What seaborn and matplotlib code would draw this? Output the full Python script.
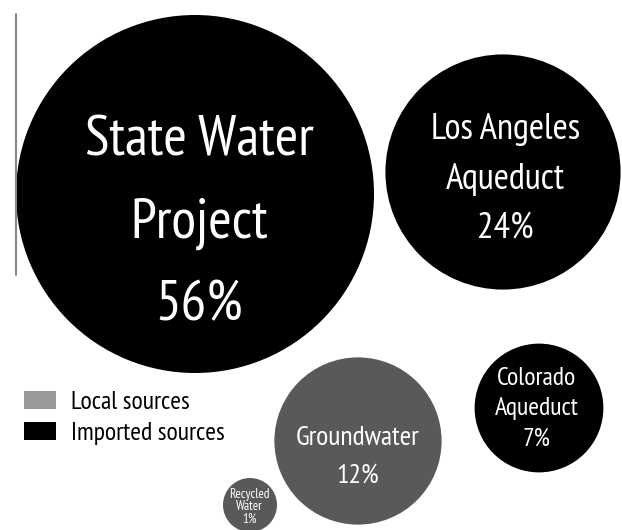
import matplotlib
matplotlib.use("Agg")
import matplotlib.pyplot as plt
from matplotlib.patches import Patch
import seaborn as sns
import pandas as pd

# Data
sources = ["State Water Project", "Los Angeles Aqueduct", "Colorado Aqueduct", "Groundwater", "Recycled Water"]
labels = ["State Water\nProject\n56%", "Los Angeles\nAqueduct\n24%", "Colorado\nAqueduct\n7%",
          "Groundwater\n12%", "Recycled\nWater\n1%"]
percent = [56, 24, 7, 12, 1]
kind = ["Imported sources", "Imported sources", "Imported sources", "Local sources", "Local sources"]
legend_labels = ["Local sources", "Imported sources"]
# bubble layout positions (layout coordinates, y downward)
pos_x = [195, 503, 539, 358, 250]
pos_y = [194, 172, 408, 441, 505]

sns.set_theme(style="white")
FONT = ['PT Sans Narrow', 'DejaVu Sans']
plt.rcParams['font.family'] = FONT

df = pd.DataFrame({"source": sources, "label": labels, "pct": percent, "kind": kind,
                   "x": pos_x, "y": pos_y})

W, H, DPI = 622, 530, 100
fig = plt.figure(figsize=(W / DPI, H / DPI), dpi=DPI)
ax = fig.add_axes([0, 0, 1, 1])

def area_pt2(r_px):
    return (2 * r_px * 72 / DPI) ** 2

palette = {"Imported sources": "#000000", "Local sources": "#595959"}
sns.scatterplot(data=df, x="x", y="y", size="pct", sizes=(area_pt2(27), area_pt2(179)),
                size_norm=(min(percent), max(percent)),
                hue="kind", palette=palette, linewidth=0, legend=False, ax=ax)

ax.set_xlim(0, W)
ax.set_ylim(H, 0)
ax.axis("off")

# text style per bubble: font size (pt), x offset, first-baseline offset, line spacing (px)
styles = {
    "State Water Project": (41, 4, -39, 82.5),
    "Los Angeles Aqueduct": (26.5, 2.5, -33, 49.5),
    "Colorado Aqueduct": (18.5, -2, -23, 30.5),
    "Groundwater": (20, 0, 4, 38),
    "Recycled Water": (9.5, -1, -7, 12.5),
}
for _, row in df.iterrows():
    fs, dx, dy0, sp = styles[row["source"]]
    for i, line in enumerate(row["label"].split("\n")):
        ax.text(row["x"] + dx, row["y"] + dy0 + i * sp, line, ha="center", va="baseline",
                color="white", fontsize=fs)

# thin vertical rule at left
ax.plot([16, 16], [14, 275], color="#888888", lw=1.5)

handles = [Patch(facecolor="#999999", edgecolor="none", label=legend_labels[0]),
           Patch(facecolor="#000000", edgecolor="none", label=legend_labels[1])]
leg = ax.legend(handles=handles, loc="upper left", bbox_to_anchor=(24 / W, 1 - 391 / H), frameon=False,
                fontsize=18.5, handlelength=1.25, handleheight=0.72, handletextpad=0.58, labelspacing=0.3,
                borderaxespad=0, borderpad=0)
for t in leg.get_texts():
    t.set_color("black")

fig.savefig("out.png", dpi=DPI)
